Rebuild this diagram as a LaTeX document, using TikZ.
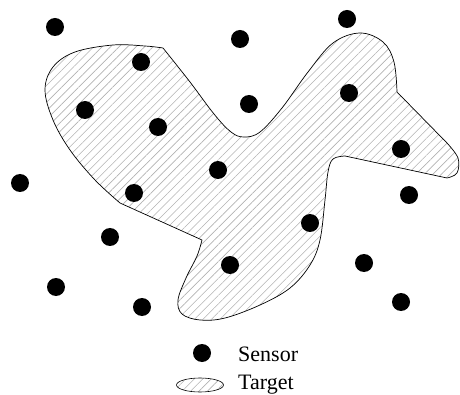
\documentclass[tikz,border=0pt]{standalone}
\usepackage{fontspec}
\setmainfont{Liberation Serif}
\usepackage{tikz}
\usetikzlibrary{patterns.meta, shapes.geometric}

\begin{document}
\begin{tikzpicture}[x=1pt, y=-1pt, every node/.style={font=\fontsize{22}{26}\selectfont},
	sensor/.style={draw=none, circle, fill=black, minimum size=18pt, inner sep=0pt},
	target/.style={draw=black, line width=0.7pt, line join=round, pattern={Lines[angle=45, distance=6pt, line width=0.6pt]}, pattern color=black!30}]
	\useasboundingbox (0,0) rectangle (460,395);
	% target region
	\draw[target] (163,48) -- plot[smooth, tension=0.6] coordinates {(163,48) (190,82) (214,114) (231,132) (244,137) (260,132) (282,108) (308,72) (333,43) (360,33) (383,42) (394,62) (397,92)}
		-- plot[smooth, tension=0.6] coordinates {(447,143) (458,158) (457,173) (447,178)}
		-- plot[smooth, tension=0.6] coordinates {(345,156) (333,159) (328,172) (325,200) (320,240) (310,265) (290,288) (260,305) (225,318) (200,320) (182,314) (178,300) (186,278) (197,256) (202,240)}
		-- plot[smooth, tension=0.6] coordinates {(120,203) (95,180) (70,150) (53,120) (45,90) (53,67) (75,52) (113,45) (145,46) (163,48)} -- cycle;
	% sensors
	\node[sensor] (s1) at (55,27) {};
	\node[sensor] (s2) at (240,39) {};
	\node[sensor] (s3) at (347,19) {};
	\node[sensor] (s4) at (141,62) {};
	\node[sensor] (s5) at (85,110) {};
	\node[sensor] (s6) at (249,104) {};
	\node[sensor] (s7) at (349,93) {};
	\node[sensor] (s8) at (158,127) {};
	\node[sensor] (s9) at (401,149) {};
	\node[sensor] (s10) at (218,170) {};
	\node[sensor] (s11) at (20,183) {};
	\node[sensor] (s12) at (134,193) {};
	\node[sensor] (s13) at (409,195) {};
	\node[sensor] (s14) at (310,223) {};
	\node[sensor] (s15) at (110,237) {};
	\node[sensor] (s16) at (364,263) {};
	\node[sensor] (s17) at (230,265) {};
	\node[sensor] (s18) at (56,287) {};
	\node[sensor] (s19) at (142,307) {};
	\node[sensor] (s20) at (401,302) {};
	% legend
	\node[sensor] (keysensor) at (202,353) {};
	\node[target, ellipse, minimum width=47pt, minimum height=14pt, inner sep=0pt, line width=0.6pt] (keytarget) at (200,385) {};
	\node[anchor=base west, inner sep=0pt] (lblsensor) at (238,361) {Sensor};
	\node[anchor=base west, inner sep=0pt] (lbltarget) at (238,389) {Target};
\end{tikzpicture}
\end{document}
